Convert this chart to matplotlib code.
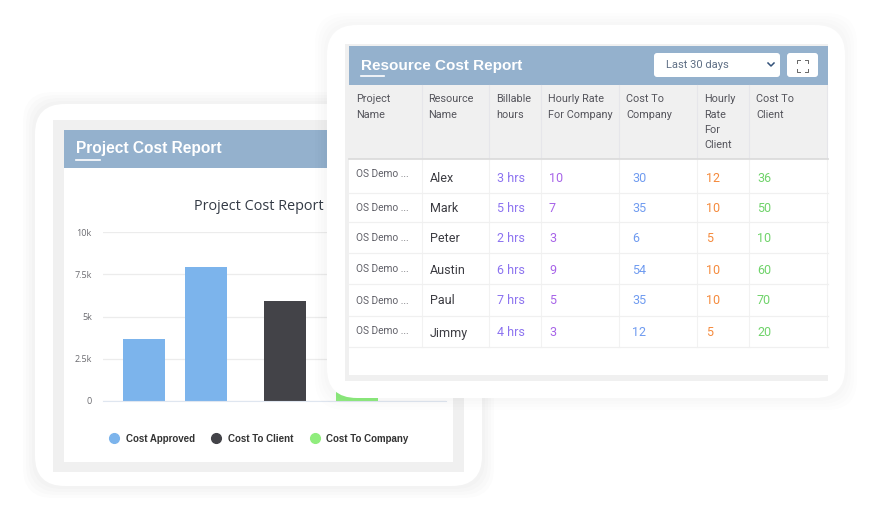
import matplotlib.pyplot as plt
from matplotlib.lines import Line2D
from matplotlib.patches import FancyBboxPatch, Rectangle

W, H = 870, 521

# Function to draw a rounded card with a soft shadow around it
def draw_card(x0, y0, x1, y1, radius, shadow):
    ax = plt.gca()
    for grow in [12, 9, 6, 3]:
        ax.add_patch(FancyBboxPatch(
            (x0 - grow + radius, y0 - grow + radius),
            x1 - x0 + 2 * grow - 2 * radius,
            y1 - y0 + 2 * grow - 2 * radius,
            boxstyle=f'round,pad={radius},rounding_size={radius}',
            facecolor='black',
            alpha=shadow,
            edgecolor='none'
        ))
    ax.add_patch(FancyBboxPatch(
        (x0 + radius, y0 + radius),
        x1 - x0 - 2 * radius,
        y1 - y0 - 2 * radius,
        boxstyle=f'round,pad={radius},rounding_size={radius}',
        facecolor='white',
        edgecolor='none'
    ))

# Function to fill a rectangle given by its pixel corners
def box(x0, y0, x1, y1, color):
    plt.gca().add_patch(Rectangle((x0, y0), x1 - x0, y1 - y0, facecolor=color, edgecolor='none'))

# Function to create a full-figure layer measured in pixels
def pixel_layer(zorder):
    ax = plt.axes([0, 0, 1, 1], zorder=zorder)
    ax.set_xlim(0, W)
    ax.set_ylim(H, 0)
    ax.axis('off')
    return ax

# Function to plot the left card frame
def plot_project_card():
    pixel_layer(0)
    draw_card(35, 104, 482, 486, 30, 0.011)
    box(53, 120, 464, 472, '#f0f0f0')
    box(64, 130, 453, 462, 'white')
    box(64, 130, 453, 168, '#94b1cd')
    plt.text(76, 149, 'Project Cost Report', fontsize=11.2, fontweight='bold', color='white',
             family='Liberation Sans', ha='left', va='center')
    plt.plot([76, 100], [160, 160], color='white', linewidth=1.2)
    plt.text(259, 206.5, 'Project Cost Report', fontsize=10.4, color='#333a45',
             family='Open Sans', ha='center', va='center')

# Function to plot the project cost bars
def plot_project_bars(bars):
    ax = plt.axes([103 / W, 1 - 401 / H, 343 / W, 169 / H], zorder=1)
    for bar in bars:
        plt.bar(bar['x'], bar['value'], width=42, color=bar['color'], zorder=2)
    plt.xlim(103, 446)
    plt.ylim(0, 10000)
    plt.yticks([0, 2500, 5000, 7500, 10000], ['0', '2.5k', '5k', '7.5k', '10k'],
               fontsize=6.5, color='#6b6b70', family='Open Sans')
    plt.xticks([])
    plt.grid(axis='y', color='#ececec', linewidth=0.9, zorder=1)
    plt.tick_params(axis='y', length=0, pad=8)
    for side in ['top', 'right', 'left']:
        ax.spines[side].set_visible(False)
    ax.spines['bottom'].set_color('#dfe6f0')

    # Legend entries are round dots, not bar patches
    handles = [Line2D([], [], linestyle='none', marker='o', markersize=7, color=c)
               for c in ['#7cb4ec', '#434348', '#90ed7d']]
    plt.legend(
        handles,
        ['Cost Approved', 'Cost To Client', 'Cost To Company'],
        ncol=3,
        frameon=False,
        loc='center',
        bbox_to_anchor=((256.5 - 103) / 343, -37.5 / 169),
        prop={'family': 'Liberation Sans', 'weight': 'bold', 'size': 7},
        labelcolor='#333333',
        handletextpad=0.15,
        columnspacing=1.25
    )

# Function to plot the right card and its table
def plot_resource_card(columns, rows):
    pixel_layer(2)
    draw_card(327, 25, 845, 398, 30, 0.007)
    box(345, 44, 828, 381, '#f0f0f0')
    box(349, 46, 828, 375, 'white')
    box(349, 46, 828, 85, '#94b1cd')
    box(349, 85, 828, 159, '#f0f0f0')

    plt.text(361, 66, 'Resource Cost Report', fontsize=11, fontweight='bold', color='white',
             family='Liberation Sans', ha='left', va='center')
    plt.plot([361, 384], [76, 76], color='white', linewidth=1.2)

    # Date range dropdown
    plt.gca().add_patch(FancyBboxPatch((656, 55), 122, 20, boxstyle='round,pad=2,rounding_size=3',
                                       facecolor='white', edgecolor='none'))
    plt.text(666, 65, 'Last 30 days', fontsize=8, color='#5f6f85', family='Roboto', ha='left', va='center')
    plt.plot([768, 771, 774], [63, 66, 63], color='#33527a', linewidth=1.1)

    # Fullscreen button
    plt.gca().add_patch(FancyBboxPatch((789, 55), 27, 20, boxstyle='round,pad=2,rounding_size=3',
                                       facecolor='white', edgecolor='none'))
    for cx, cy in [(797, 60), (808, 60), (797, 72), (808, 72)]:
        dx = 3 if cx == 797 else -3
        dy = 3 if cy == 60 else -3
        plt.plot([cx + dx, cx, cx], [cy, cy, cy + dy], color='#666666', linewidth=0.7)

    # Grid lines
    column_edges = [422, 489, 541, 619, 697, 749, 827]
    row_edges = [193, 222, 253, 284, 316, 347]
    for x in column_edges:
        plt.plot([x, x], [85, 159], color='#e6e6ea', linewidth=0.8)
        plt.plot([x, x], [159, 347], color='#f2f2f2', linewidth=0.8)
    for y in row_edges:
        plt.plot([349, 828], [y, y], color='#f0f0f0', linewidth=0.9)
    plt.plot([349, 828], [159, 159], color='#dcdcdc', linewidth=1.3)

    # Table header
    for col in columns:
        for i, line in enumerate(col['lines']):
            plt.text(col['x'], 99.5 + i * 15.3, line, fontsize=7.8, color='#55555c',
                     family='Roboto', ha='left', va='center')

    # Table rows
    for row in rows:
        y = row['y'] + 1
        plt.text(356.5, row['os_y'] + 1, 'OS Demo ...', fontsize=7.3, color='#606068', family='Roboto', va='center')
        plt.text(430, y, row['name'], fontsize=9, color='#3c3c42', family='Roboto', va='center')
        plt.text(497, y, row['hours'], fontsize=9, color='#8c73f0', family='Roboto', va='center')
        plt.text(549, y, row['rate'], fontsize=9, color='#a763e8', family='Roboto', va='center')
        plt.text(632, y, row['company'], fontsize=9, color='#6f9bf0', family='Roboto', va='center')
        plt.text(706, y, row['client_rate'], fontsize=9, color='#f58a3c', family='Roboto', va='center')
        plt.text(757, y, row['client'], fontsize=9, color='#6fd36a', family='Roboto', va='center')


# Main script execution
if __name__ == "__main__":
    bars = [
        {'x': 144, 'value': 3650, 'color': '#7cb4ec'},
        {'x': 206, 'value': 7950, 'color': '#7cb4ec'},
        {'x': 285, 'value': 5900, 'color': '#434348'},
        {'x': 357, 'value': 5000, 'color': '#90ed7d'},
    ]
    columns = [
        {'x': 356.5, 'lines': ['Project', 'Name']},
        {'x': 428.5, 'lines': ['Resource', 'Name']},
        {'x': 496, 'lines': ['Billable', 'hours']},
        {'x': 548, 'lines': ['Hourly Rate', 'For Company']},
        {'x': 626, 'lines': ['Cost To', 'Company']},
        {'x': 704, 'lines': ['Hourly', 'Rate', 'For', 'Client']},
        {'x': 756, 'lines': ['Cost To', 'Client']},
    ]
    rows = [
        {'y': 177, 'os_y': 173, 'name': 'Alex', 'hours': '3 hrs', 'rate': '10', 'company': '30', 'client_rate': '12', 'client': '36'},
        {'y': 207, 'os_y': 207, 'name': 'Mark', 'hours': '5 hrs', 'rate': '7', 'company': '35', 'client_rate': '10', 'client': '50'},
        {'y': 237, 'os_y': 237, 'name': 'Peter', 'hours': '2 hrs', 'rate': '3', 'company': '6', 'client_rate': '5', 'client': '10'},
        {'y': 269, 'os_y': 268, 'name': 'Austin', 'hours': '6 hrs', 'rate': '9', 'company': '54', 'client_rate': '10', 'client': '60'},
        {'y': 300, 'os_y': 300, 'name': 'Paul', 'hours': '7 hrs', 'rate': '5', 'company': '35', 'client_rate': '10', 'client': '70'},
        {'y': 332, 'os_y': 330, 'name': 'Jimmy', 'hours': '4 hrs', 'rate': '3', 'company': '12', 'client_rate': '5', 'client': '20'},
    ]

    plt.figure(figsize=(8.7, 5.21), dpi=100)
    plot_project_card()
    plot_project_bars(bars)
    plot_resource_card(columns, rows)
    plt.savefig('out.png', dpi=100)
